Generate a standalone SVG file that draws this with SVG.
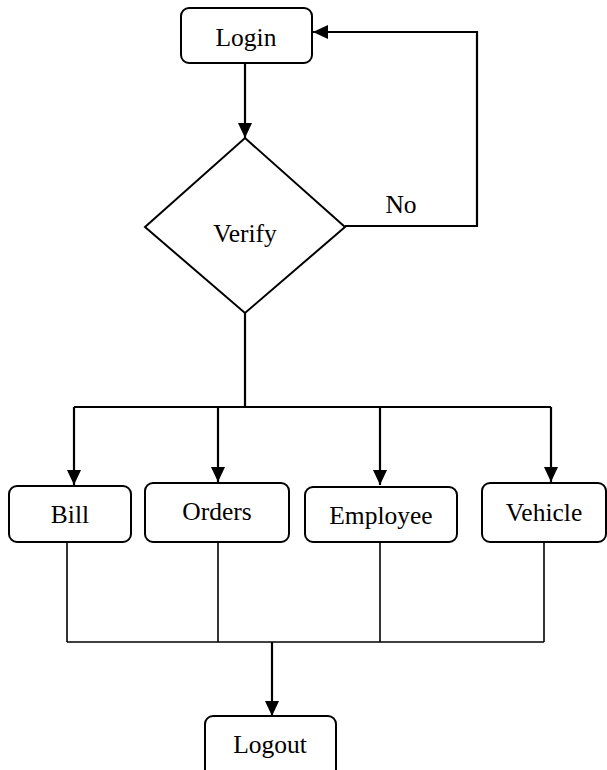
<svg xmlns="http://www.w3.org/2000/svg" width="607" height="770" viewBox="0 0 607 770">
<defs>
<marker id="arr" markerUnits="userSpaceOnUse" markerWidth="15" markerHeight="14" refX="15" refY="7" orient="auto">
<path d="M0,0 L15,7 L0,14 z" fill="#000"/>
</marker>
<style>
.box{fill:#fff;stroke:#000;stroke-width:2}
.t{font-family:"Liberation Serif","Times New Roman",serif;font-size:25.5px;fill:#000;text-anchor:middle}
.c{fill:none;stroke:#000;stroke-width:2.2}
.a{fill:none;stroke:#000;stroke-width:2.2;marker-end:url(#arr)}
.j{fill:none;stroke:#000;stroke-width:1.6}
</style>
</defs>
<rect width="607" height="770" fill="#fff"/>
<g id="connectors">
<line class="a" x1="245" y1="63" x2="245" y2="138"/>
<polyline class="a" points="345,226 477,226 477,32 313,32"/>
<line class="c" x1="245" y1="313" x2="245" y2="407"/>
<line class="c" x1="74" y1="407" x2="551" y2="407"/>
<line class="a" x1="74" y1="407" x2="74" y2="485"/>
<line class="a" x1="218" y1="407" x2="218" y2="482"/>
<line class="a" x1="380" y1="407" x2="380" y2="485"/>
<line class="a" x1="551" y1="407" x2="551" y2="482"/>
<line class="j" x1="67" y1="542" x2="67" y2="642"/>
<line class="j" x1="218" y1="542" x2="218" y2="642"/>
<line class="j" x1="380" y1="542" x2="380" y2="642"/>
<line class="j" x1="544" y1="542" x2="544" y2="642"/>
<line class="j" x1="67" y1="642" x2="544" y2="642"/>
<line class="a" x1="272" y1="642" x2="272" y2="716"/>
<text class="t" x="401" y="213">No</text>
</g>
<g id="login">
<rect class="box" x="181" y="8" width="131" height="55" rx="8"/>
<text class="t" x="246" y="46">Login</text>
</g>
<g id="verify">
<polygon class="box" points="245,138 345,227 245,313 145,227"/>
<text class="t" x="245" y="242">Verify</text>
</g>
<g id="bill">
<rect class="box" x="9" y="486" width="122" height="56" rx="8"/>
<text class="t" x="70" y="523">Bill</text>
</g>
<g id="orders">
<rect class="box" x="145" y="483" width="144" height="59" rx="8"/>
<text class="t" x="217" y="520">Orders</text>
</g>
<g id="employee">
<rect class="box" x="305" y="487" width="152" height="55" rx="8"/>
<text class="t" x="381" y="524">Employee</text>
</g>
<g id="vehicle">
<rect class="box" x="482" y="483" width="124" height="59" rx="8"/>
<text class="t" x="544" y="521">Vehicle</text>
</g>
<g id="logout">
<rect class="box" x="205" y="716" width="131" height="62" rx="8"/>
<text class="t" x="270" y="753">Logout</text>
</g>
</svg>
